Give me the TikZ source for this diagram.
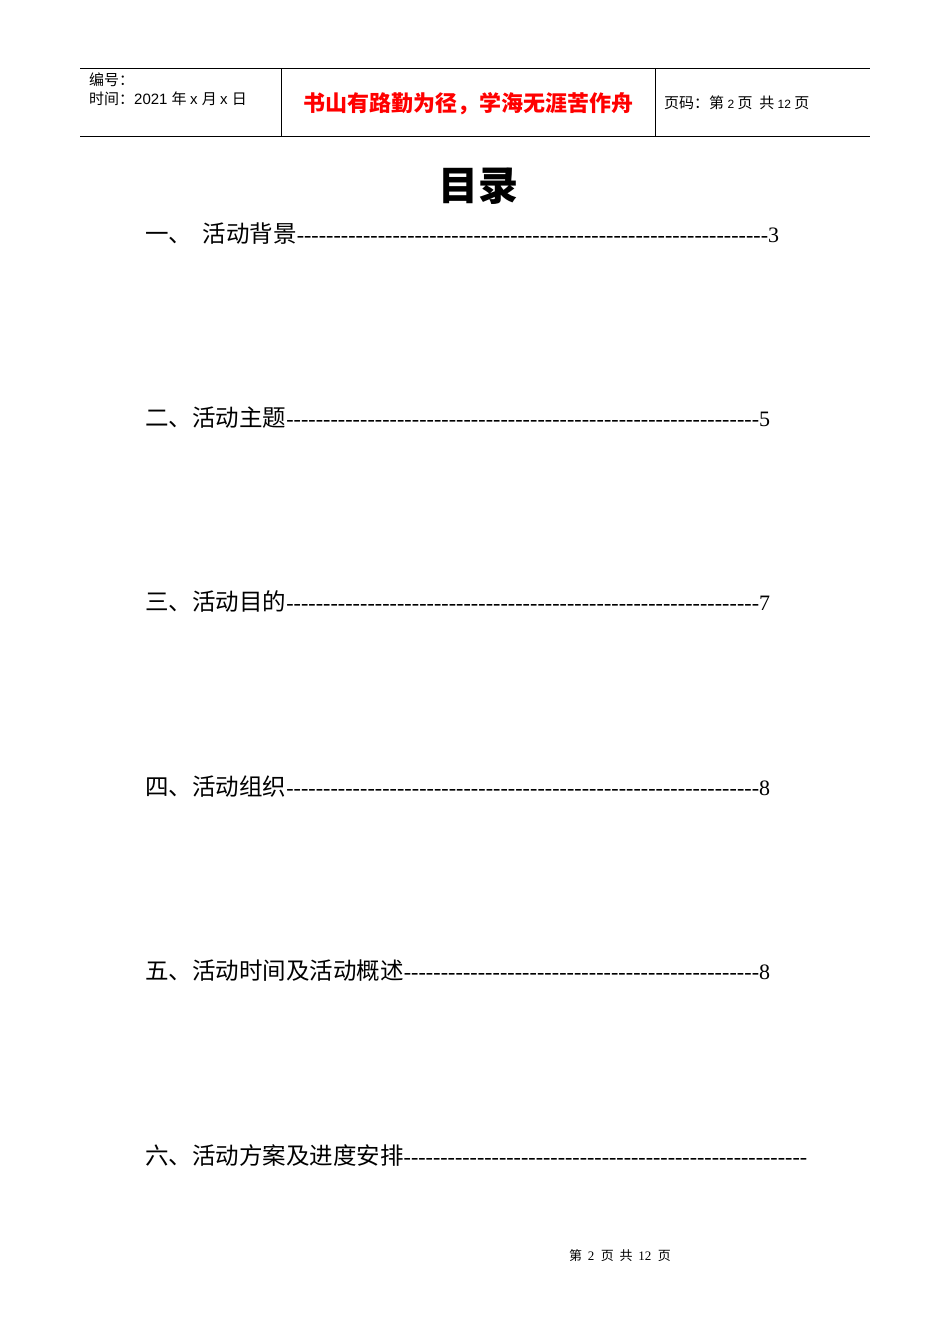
\documentclass[tikz,border=0pt]{standalone}
\usepackage{fontspec}
\setmainfont{Liberation Serif}
\newfontfamily\cjk{Noto Sans CJK SC}
\newfontfamily\hsans{Liberation Sans}
\newcommand{\tocline}[3]{\makebox[#1pt][l]{{\cjk\fontsize{23.5}{26}\selectfont #2}\rmfamily\xleaders\hbox{-}\hfill #3}}
\tikzset{entry/.style={anchor=west,inner sep=0pt,font=\fontsize{22}{26}\selectfont}}
\begin{document}
\begin{tikzpicture}[x=1pt,y=-1pt]
\useasboundingbox (0,0) rectangle (950,1344);
\draw[line width=0.8pt] (80,68) -- (870,68) (80,136) -- (870,136) (281,68) -- (281,136) (655,68) -- (655,136);
\node[anchor=west,inner sep=0pt,font=\fontsize{15}{17}\selectfont] (bh) at (89,80) {\cjk 编号：};
\node[anchor=west,inner sep=0pt,font=\fontsize{15}{17}\selectfont] (sj) at (89,99) {\cjk 时间：\hsans 2021 \cjk 年 \hsans x \cjk 月 \hsans x \cjk 日};
\node[inner sep=0pt,text=red,font=\fontsize{22}{26}\selectfont\bfseries] (motto) at (468,104) {\cjk\bfseries 书山有路勤为径，学海无涯苦作舟};
\node[anchor=west,inner sep=0pt,font=\fontsize{15}{17}\selectfont] (ym) at (664,103) {\cjk 页码：第 {\hsans\fontsize{12}{14}\selectfont 2} 页\ \ 共 {\hsans\fontsize{12}{14}\selectfont 12} 页};
\node[inner sep=0pt,font=\fontsize{40}{44}\selectfont] (title) at (478,186) {\cjk\bfseries 目录};
\node[entry] (e1) at (145,234) {\tocline{634}{一、\ \ 活动背景}{3}};
\node[entry] (e2) at (145,418) {\tocline{625}{二、活动主题}{5}};
\node[entry] (e3) at (145,602) {\tocline{625}{三、活动目的}{7}};
\node[entry] (e4) at (145,787) {\tocline{625}{四、活动组织}{8}};
\node[entry] (e5) at (145,971) {\tocline{625}{五、活动时间及活动概述}{8}};
\node[entry] (e6) at (145,1156) {\tocline{662}{六、活动方案及进度安排}{}};
\node[inner sep=0pt,font=\fontsize{13}{15}\selectfont] (foot) at (620,1256) {\cjk 第\ \ \rmfamily 2\ \ \cjk 页\ \ 共\ \ \rmfamily 12\ \ \cjk 页};
\end{tikzpicture}
\end{document}
